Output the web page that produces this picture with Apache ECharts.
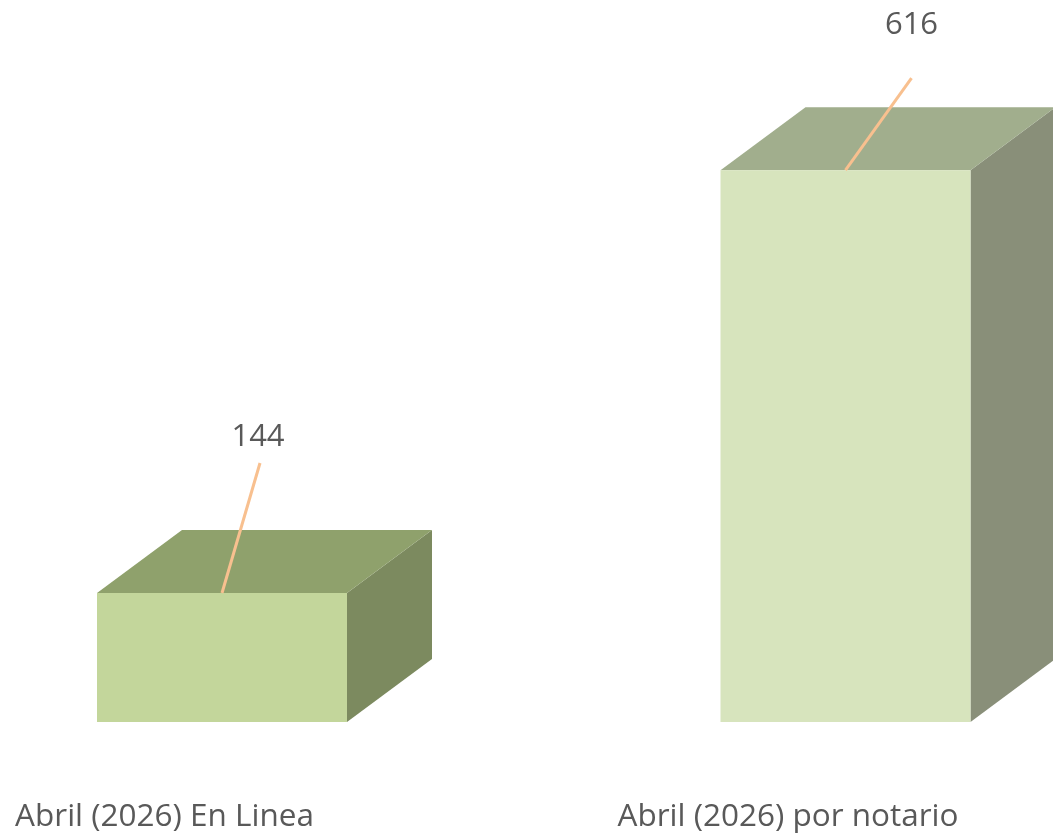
<!DOCTYPE html>
<html>
<head>
<meta charset="utf-8">
<script src="https://cdn.jsdelivr.net/npm/echarts@6/dist/echarts.min.js"></script>
<style>html,body{margin:0;padding:0;background:#fff}#c{width:1053px;height:833px}</style>
</head>
<body>
<div id="c"></div>
<script>
var categories = ['Abril (2026) En Linea', 'Abril (2026) por notario'];
var values = [144, 616];

var frontColors = ['#c3d69b', '#d7e4bd'];
var topColors = ['#8fa16c', '#a1ae8d'];
var sideColors = ['#7c8a5f', '#898f79'];
var labelLineStart = [[38, -130], [66, -92]];
var labelCenter = [[36, -156], [66, -145]];

var W = 250, DX = 85, DY = -63;

var chart = echarts.init(document.getElementById('c'));
chart.setOption({
  animation: false,
  grid: {left: 222, right: 207.5, top: 95, bottom: 111},
  xAxis: {
    type: 'category', data: categories, boundaryGap: false,
    axisLine: {show: false}, axisTick: {show: false},
    axisLabel: {fontFamily: 'Open Sans', fontSize: 31.5, color: '#595959', margin: 79, padding: [0, 115, 0, 0]}
  },
  yAxis: {type: 'value', min: 0, max: 700, show: false, splitLine: {show: false}},
  series: [{
    type: 'custom',
    clip: false,
    data: values.map(function (v, i) { return [i, v]; }),
    renderItem: function (params, api) {
      var i = params.dataIndex;
      var top = api.coord([api.value(0), api.value(1)]);
      var base = api.coord([api.value(0), 0]);
      var x0 = top[0] - W / 2, x1 = top[0] + W / 2, yt = top[1], yb = base[1];
      var ls = labelLineStart[i], lc = labelCenter[i];
      return {
        type: 'group',
        children: [
          {type: 'polygon', shape: {points: [[x1, yt], [x1 + DX, yt + DY], [x1 + DX, yb + DY], [x1, yb]]}, style: {fill: sideColors[i]}},
          {type: 'polygon', shape: {points: [[x0, yt], [x1, yt], [x1 + DX, yt + DY], [x0 + DX, yt + DY]]}, style: {fill: topColors[i]}},
          {type: 'rect', shape: {x: x0, y: yt, width: W, height: yb - yt}, style: {fill: frontColors[i]}},
          {type: 'line', shape: {x1: top[0], y1: yt, x2: top[0] + ls[0], y2: yt + ls[1]}, style: {stroke: '#f8c08f', lineWidth: 3}},
          {type: 'text', style: {x: top[0] + lc[0], y: yt + lc[1], text: String(api.value(1)), align: 'center', verticalAlign: 'middle', fontFamily: 'Open Sans', fontSize: 31, fill: '#595959'}}
        ]
      };
    }
  }]
});
</script>
</body>
</html>
